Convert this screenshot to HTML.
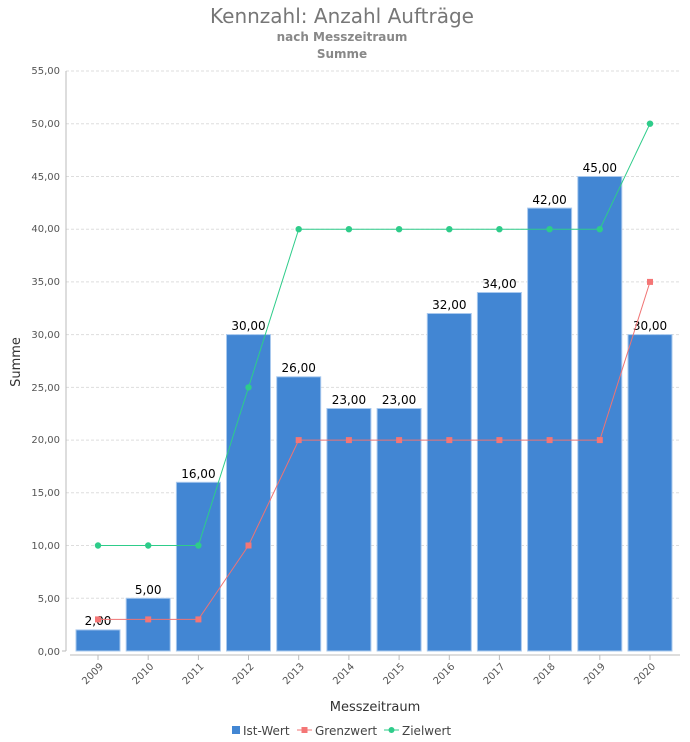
<!DOCTYPE html>
<html><head><meta charset="utf-8"><style>
html,body{margin:0;padding:0;background:#fff;}
svg{display:block;font-family:"DejaVu Sans","Liberation Sans",sans-serif;}
</style></head><body>
<svg width="690" height="742" viewBox="0 0 690 742" xmlns="http://www.w3.org/2000/svg">
<text x="342" y="23" text-anchor="middle" font-size="20" fill="#777">Kennzahl: Anzahl Aufträge</text>
<text x="342" y="41" text-anchor="middle" font-size="12" font-weight="bold" fill="#888">nach Messzeitraum</text>
<text x="342" y="58" text-anchor="middle" font-size="12" font-weight="bold" fill="#888">Summe</text>
<g stroke="#ddd" stroke-dasharray="3,2" stroke-width="1">
<line x1="66" x2="680" y1="71" y2="71"/><line x1="66" x2="680" y1="123.7" y2="123.7"/>
<line x1="66" x2="680" y1="176.5" y2="176.5"/><line x1="66" x2="680" y1="229.2" y2="229.2"/>
<line x1="66" x2="680" y1="281.9" y2="281.9"/><line x1="66" x2="680" y1="334.6" y2="334.6"/>
<line x1="66" x2="680" y1="387.4" y2="387.4"/><line x1="66" x2="680" y1="440.1" y2="440.1"/>
<line x1="66" x2="680" y1="492.8" y2="492.8"/><line x1="66" x2="680" y1="545.5" y2="545.5"/>
<line x1="66" x2="680" y1="598.3" y2="598.3"/>
</g>
<g font-size="10" fill="#555" text-anchor="end">
<text x="60" y="74">55,00</text><text x="60" y="127">50,00</text><text x="60" y="180">45,00</text>
<text x="60" y="232">40,00</text><text x="60" y="285">35,00</text><text x="60" y="338">30,00</text>
<text x="60" y="391">25,00</text><text x="60" y="443">20,00</text><text x="60" y="496">15,00</text>
<text x="60" y="549">10,00</text><text x="60" y="602">5,00</text><text x="60" y="655">0,00</text>
</g>
<line x1="66" y1="71" x2="66" y2="651" stroke="#bbb"/>
<line x1="62" y1="651" x2="66" y2="651" stroke="#bbb"/>
<line x1="70" y1="655" x2="680" y2="655" stroke="#bbb"/>
<g fill="#4286d3" stroke="#a9c9ee" stroke-width="1">
<rect x="76" y="629.9" width="44" height="21.1"/>
<rect x="126.2" y="598.3" width="44" height="52.7"/>
<rect x="176.4" y="482.3" width="44" height="168.7"/>
<rect x="226.5" y="334.6" width="44" height="316.4"/>
<rect x="276.7" y="376.8" width="44" height="274.2"/>
<rect x="326.9" y="408.5" width="44" height="242.5"/>
<rect x="377.1" y="408.5" width="44" height="242.5"/>
<rect x="427.3" y="313.5" width="44" height="337.5"/>
<rect x="477.4" y="292.5" width="44" height="358.5"/>
<rect x="527.6" y="208.1" width="44" height="442.9"/>
<rect x="577.8" y="176.5" width="44" height="474.5"/>
<rect x="628" y="334.6" width="44" height="316.4"/>
</g>
<g font-size="12" fill="#000" text-anchor="middle">
<text x="98" y="625">2,00</text><text x="148.2" y="594">5,00</text><text x="198.4" y="478">16,00</text>
<text x="248.5" y="330">30,00</text><text x="298.7" y="372">26,00</text><text x="348.9" y="404">23,00</text>
<text x="399.1" y="404">23,00</text><text x="449.3" y="309">32,00</text><text x="499.4" y="288">34,00</text>
<text x="549.6" y="204">42,00</text><text x="599.8" y="172">45,00</text><text x="650" y="330">30,00</text>
</g>
<polyline fill="none" stroke="#f07373" stroke-width="1" points="98,619.4 148.2,619.4 198.4,619.4 248.5,545.5 298.7,440.1 348.9,440.1 399.1,440.1 449.3,440.1 499.4,440.1 549.6,440.1 599.8,440.1 650,281.9"/>
<g fill="#f47676">
<rect x="95" y="616.4" width="6" height="6"/><rect x="145.2" y="616.4" width="6" height="6"/><rect x="195.4" y="616.4" width="6" height="6"/>
<rect x="245.5" y="542.5" width="6" height="6"/><rect x="295.7" y="437.1" width="6" height="6"/><rect x="345.9" y="437.1" width="6" height="6"/>
<rect x="396.1" y="437.1" width="6" height="6"/><rect x="446.3" y="437.1" width="6" height="6"/><rect x="496.4" y="437.1" width="6" height="6"/>
<rect x="546.6" y="437.1" width="6" height="6"/><rect x="596.8" y="437.1" width="6" height="6"/><rect x="647" y="278.9" width="6" height="6"/>
</g>
<polyline fill="none" stroke="#2ecc8a" stroke-width="1" points="98,545.5 148.2,545.5 198.4,545.5 248.5,387.4 298.7,229.2 348.9,229.2 399.1,229.2 449.3,229.2 499.4,229.2 549.6,229.2 599.8,229.2 650,123.7"/>
<g fill="#2ecc8a">
<circle cx="98" cy="545.5" r="3.2"/><circle cx="148.2" cy="545.5" r="3.2"/><circle cx="198.4" cy="545.5" r="3.2"/>
<circle cx="248.5" cy="387.4" r="3.2"/><circle cx="298.7" cy="229.2" r="3.2"/><circle cx="348.9" cy="229.2" r="3.2"/>
<circle cx="399.1" cy="229.2" r="3.2"/><circle cx="449.3" cy="229.2" r="3.2"/><circle cx="499.4" cy="229.2" r="3.2"/>
<circle cx="549.6" cy="229.2" r="3.2"/><circle cx="599.8" cy="229.2" r="3.2"/><circle cx="650" cy="123.7" r="3.2"/>
</g>
<g stroke="#bbb"><line x1="98" y1="655" x2="98" y2="660"/><line x1="148.2" y1="655" x2="148.2" y2="660"/><line x1="198.4" y1="655" x2="198.4" y2="660"/><line x1="248.5" y1="655" x2="248.5" y2="660"/><line x1="298.7" y1="655" x2="298.7" y2="660"/><line x1="348.9" y1="655" x2="348.9" y2="660"/><line x1="399.1" y1="655" x2="399.1" y2="660"/><line x1="449.3" y1="655" x2="449.3" y2="660"/><line x1="499.4" y1="655" x2="499.4" y2="660"/><line x1="549.6" y1="655" x2="549.6" y2="660"/><line x1="599.8" y1="655" x2="599.8" y2="660"/><line x1="650" y1="655" x2="650" y2="660"/></g>
<g font-size="10" fill="#555" text-anchor="end">
<text transform="translate(104,667) rotate(-45)">2009</text>
<text transform="translate(154.2,667) rotate(-45)">2010</text>
<text transform="translate(204.4,667) rotate(-45)">2011</text>
<text transform="translate(254.5,667) rotate(-45)">2012</text>
<text transform="translate(304.7,667) rotate(-45)">2013</text>
<text transform="translate(354.9,667) rotate(-45)">2014</text>
<text transform="translate(405.1,667) rotate(-45)">2015</text>
<text transform="translate(455.3,667) rotate(-45)">2016</text>
<text transform="translate(505.4,667) rotate(-45)">2017</text>
<text transform="translate(555.6,667) rotate(-45)">2018</text>
<text transform="translate(605.8,667) rotate(-45)">2019</text>
<text transform="translate(656,667) rotate(-45)">2020</text>
</g>
<text x="375" y="711" text-anchor="middle" font-size="13" fill="#333">Messzeitraum</text>
<text transform="translate(20,362) rotate(-90)" text-anchor="middle" font-size="13" fill="#333">Summe</text>
<g font-size="12" fill="#444">
<rect x="232" y="726" width="8" height="8" fill="#4286d3"/>
<text x="243" y="735">Ist-Wert</text>
<line x1="297" y1="730" x2="312" y2="730" stroke="#f07373"/>
<rect x="301.5" y="727" width="6" height="6" fill="#f47676"/>
<text x="315" y="735">Grenzwert</text>
<line x1="384" y1="730" x2="399" y2="730" stroke="#2ecc8a"/>
<circle cx="391.5" cy="730" r="3" fill="#2ecc8a"/>
<text x="402" y="735">Zielwert</text>
</g>
</svg>
</body></html>
